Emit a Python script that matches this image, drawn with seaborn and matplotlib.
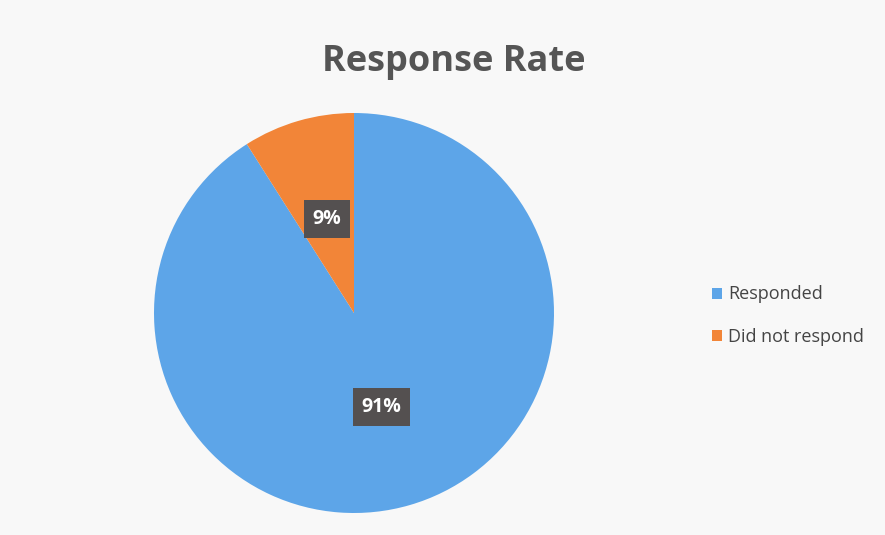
import matplotlib
matplotlib.use("Agg")
import matplotlib.pyplot as plt
import seaborn as sns

categories = ["Responded", "Did not respond"]
values = [91, 9]
colors = ["#5DA5E8", "#F28538"]

sns.set_theme(style="white")
plt.rcParams['font.family'] = ['Open Sans', 'DejaVu Sans']

fig = plt.figure(figsize=(8.85, 5.35), dpi=100, facecolor="#f8f8f8")
ax = fig.add_axes([154/885, 22/535, 400/885, 400/535])
ax.set_facecolor("#f8f8f8")

wedges, texts, autotexts = ax.pie(values, colors=colors, startangle=90, counterclock=False,
                                  autopct=lambda p: f"{p:.0f}%", pctdistance=0.49,
                                  wedgeprops=dict(linewidth=0))
for t in autotexts:
    t.set_color("white")
    t.set_fontsize(14)
    t.set_fontweight("bold")
    t.set_bbox(dict(boxstyle="square,pad=0.45", facecolor="#545050", edgecolor="none"))
ax.set_aspect("equal")
ax.set_xlim(-1, 1)
ax.set_ylim(-1, 1)

fig.text(0.513, 0.885, "Response Rate", ha="center", va="center", fontsize=26,
         color="#555555", fontweight="bold")

leg = fig.legend(wedges, categories, loc="center left", bbox_to_anchor=(0.786, 0.41),
                 frameon=False, fontsize=13, handlelength=0.55, handleheight=0.55,
                 handletextpad=0.35, labelspacing=1.35, labelcolor="#444444")

fig.savefig("out.png", dpi=100, facecolor=fig.get_facecolor())
